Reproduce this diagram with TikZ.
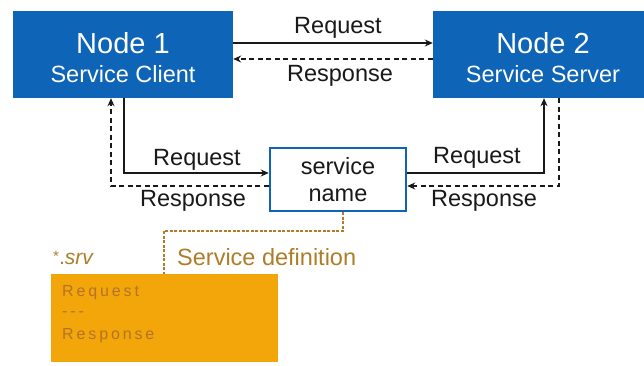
\documentclass[tikz,border=0pt]{standalone}
\usepackage{fontspec}
\setmainfont{Liberation Sans}
\usetikzlibrary{arrows.meta}
\definecolor{nodeblue}{RGB}{14,100,182}
\definecolor{ink}{RGB}{25,25,25}
\definecolor{defbrown}{RGB}{175,125,40}
\definecolor{srvorange}{RGB}{242,166,10}
\definecolor{srvtext}{RGB}{180,115,40}
\tikzset{
  x=1pt, y=-1pt,
  bluebox/.style={draw=none, fill=nodeblue, inner sep=0pt},
  title/.style={text=white, font=\fontsize{29}{33}\selectfont, inner sep=0pt},
  subtitle/.style={text=white, font=\fontsize{23.5}{27}\selectfont, inner sep=0pt},
  lbl/.style={text=ink, font=\fontsize{23.5}{27}\selectfont, inner sep=0pt},
  srvline/.style={text=srvtext, font=\fontsize{16}{18}\selectfont\addfontfeatures{LetterSpace=18}, inner sep=0pt, anchor=west},
  req/.style={draw=ink, line width=1.2pt, -{Stealth[length=8pt,width=7pt]}},
  resp/.style={draw=ink, line width=1.2pt, dash pattern=on 5pt off 3.5pt, -{Stealth[length=8pt,width=7pt]}},
  defline/.style={draw=defbrown, line width=1.2pt, dash pattern=on 3pt off 1.5pt},
}
\begin{document}
\begin{tikzpicture}
\useasboundingbox[fill=white] (0,0) rectangle (644,365);
% boxes
\node[bluebox, minimum width=220pt, minimum height=87pt] (n1) at (123,54.5) {};
\node[bluebox, minimum width=211pt, minimum height=87pt] (n2) at (538.5,54.5) {};
\node[title] (n1t) at (123,43) {Node 1};
\node[subtitle] (n1s) at (123,74) {Service Client};
\node[title] (n2t) at (543,43) {Node 2};
\node[subtitle] (n2s) at (543,74) {Service Server};
\node[draw=nodeblue, line width=2.5pt, fill=white, minimum width=136pt, minimum height=63pt, inner sep=0pt] (svc) at (338,179.5) {};
\node[lbl] (svc1) at (338,166) {service};
\node[lbl] (svc2) at (338,195) {name};
\node[fill=srvorange, minimum width=227pt, minimum height=88pt, inner sep=0pt] (srv) at (164.5,318) {};
\node[srvline] (srv1) at (62,293) {Request};
\node[srvline] (srv2) at (62,314) {-{}-{}-};
\node[srvline] (srv3) at (62,336) {Response};
\node[text=defbrown, font=\fontsize{21}{24}\selectfont, inner sep=0pt, anchor=west] (srvname) at (53,258) {\raisebox{3pt}{\fontsize{15}{17}\selectfont*}.\textit{srv}};
\node[text=defbrown, font=\fontsize{23.5}{27}\selectfont, inner sep=0pt, anchor=west] (deflbl) at (177,257) {Service definition};
% helper coordinates
\coordinate (ytop1) at (0,43);
\coordinate (ytop2) at (0,59);
\coordinate (xL1) at (111,0);
\coordinate (xL2) at (124,0);
\coordinate (xR1) at (544,0);
\coordinate (xR2) at (559,0);
\coordinate (yreq) at (0,173);
\coordinate (yresp) at (0,186);
\coordinate (xB) at (343,0);
\coordinate (yB) at (0,231);
\coordinate (xD) at (164,0);
% top connectors
\draw[req] (n1.east |- ytop1) -- (n2.west |- ytop1);
\draw[resp] (n2.west |- ytop2) -- (n1.east |- ytop2);
\node[lbl] (l1) at (338,28) {Request};
\node[lbl] (l2) at (340,76) {Response};
% left connectors
\draw[req] (n1.south -| xL2) |- (svc.west |- yreq);
\draw[resp] (svc.west |- yresp) -| (n1.south -| xL1);
\node[lbl] (l3) at (197,160) {Request};
\node[lbl] (l4) at (193,201) {Response};
% right connectors
\draw[req] (svc.east |- yreq) -| (n2.south -| xR1);
\draw[resp] (n2.south -| xR2) |- (svc.east |- yresp);
\node[lbl] (l5) at (477,158) {Request};
\node[lbl] (l6) at (484,201) {Response};
% service definition link
\draw[defline] (svc.south -| xB) -- (xB |- yB) -| (srv.north -| xD);
\end{tikzpicture}
\end{document}
